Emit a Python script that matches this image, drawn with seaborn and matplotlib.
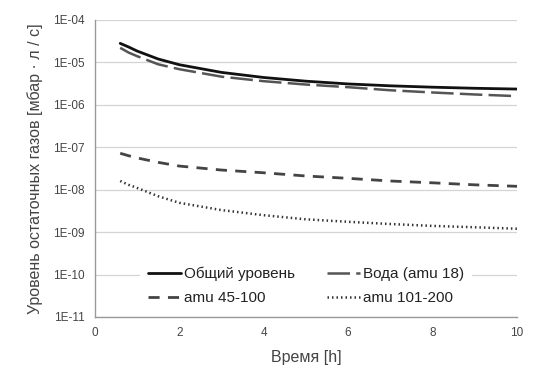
import numpy as np
import pandas as pd
import matplotlib
matplotlib.use("Agg")
import matplotlib.pyplot as plt
import matplotlib.ticker as mticker
import seaborn as sns

# time [h]
t_main = [0.6, 0.8, 1.0, 1.5, 2.0, 3.0, 4.0, 5.0, 6.0, 7.0, 8.0, 9.0, 10.0]

total = [2.8e-5, 2.3e-5, 1.85e-5, 1.2e-5, 8.8e-6, 5.8e-6, 4.4e-6, 3.6e-6, 3.1e-6, 2.8e-6, 2.6e-6, 2.45e-6, 2.35e-6]
water = [2.2e-5, 1.7e-5, 1.4e-5, 9.0e-6, 6.9e-6, 4.6e-6, 3.6e-6, 3.0e-6, 2.6e-6, 2.2e-6, 1.95e-6, 1.75e-6, 1.6e-6]
amu45 = [7.2e-8, 6.3e-8, 5.6e-8, 4.4e-8, 3.6e-8, 2.9e-8, 2.5e-8, 2.1e-8, 1.85e-8, 1.6e-8, 1.45e-8, 1.3e-8, 1.2e-8]
amu101 = [1.6e-8, 1.3e-8, 1.1e-8, 7.0e-9, 4.9e-9, 3.3e-9, 2.5e-9, 2.0e-9, 1.75e-9, 1.55e-9, 1.4e-9, 1.3e-9, 1.2e-9]

labels = ["Общий уровень", "Вода (amu 18)", "amu 45-100", "amu 101-200"]

df = pd.DataFrame({"t": t_main * 4,
                   "val": total + water + amu45 + amu101,
                   "series": np.repeat(labels, len(t_main))})

sns.set_style("white")
plt.rcParams["font.family"] = ["Liberation Sans", "DejaVu Sans"]

fig = plt.figure(figsize=(5.33, 3.69), dpi=100)
ax = fig.add_axes([0.178, 0.141, 0.792, 0.805])

styles = {
    "Общий уровень": dict(color="#111111", lw=2.0, linestyle="-"),
    "Вода (amu 18)": dict(color="#555555", lw=1.8, linestyle=(0, (9, 2.5))),
    "amu 45-100": dict(color="#444444", lw=2.0, linestyle=(0, (4, 3))),
    "amu 101-200": dict(color="#333333", lw=1.8, linestyle=(0, (0.6, 1.2))),
}
for lab in labels:
    sub = df[df["series"] == lab]
    sns.lineplot(data=sub, x="t", y="val", ax=ax, label=lab, **styles[lab])

ax.set_yscale("log")
ax.set_ylim(1e-11, 1e-4)
ax.set_xlim(0, 10)
ax.set_xticks([0, 2, 4, 6, 8, 10])
ax.yaxis.set_major_locator(mticker.LogLocator(base=10, numticks=20))
ax.yaxis.set_minor_locator(mticker.NullLocator())
ax.yaxis.set_major_formatter(mticker.FuncFormatter(lambda v, p: "1E-%02d" % round(-np.log10(v))))
ax.grid(axis="y", color="#d4d4d4", lw=0.9)
ax.set_axisbelow(True)
for s in ["top", "right"]:
    ax.spines[s].set_visible(False)
for s in ["left", "bottom"]:
    ax.spines[s].set_color("#999999")
    ax.spines[s].set_linewidth(1.0)
ax.tick_params(axis="both", labelsize=8.5, colors="#888888", length=5, width=0.8, direction="inout")
ax.tick_params(axis="both", labelcolor="#444444")
ax.tick_params(axis="y", pad=5)
ax.tick_params(axis="x", pad=5)

ax.set_xlabel("Время [h]", fontsize=11.5, color="#444444", labelpad=8)
ax.set_ylabel("Уровень остаточных газов [мбар · л / с]", fontsize=11.5, color="#444444", labelpad=7)

h, l = ax.get_legend_handles_labels()
order = [0, 2, 1, 3]
leg = ax.legend([h[i] for i in order], [l[i] for i in order], ncol=2,
                loc="lower left", bbox_to_anchor=(0.108, 0.015), borderaxespad=0,
                frameon=True, facecolor="white", edgecolor="none", framealpha=1,
                borderpad=0.5, fontsize=11, handlelength=2.15, handletextpad=0.2,
                columnspacing=2.1, labelspacing=0.65, labelcolor="#222222")

fig.savefig("out.png", dpi=100)
